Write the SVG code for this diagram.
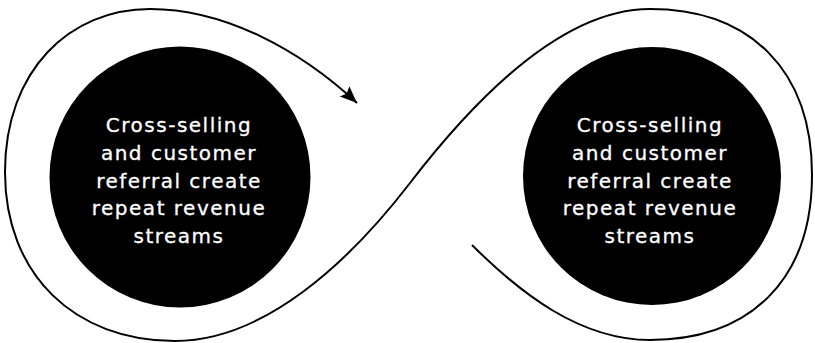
<svg xmlns="http://www.w3.org/2000/svg" width="815" height="343" viewBox="0 0 815 343">
<style>
.bg{fill:#ffffff}
.node circle{fill:#000000}
.node text{fill:#ffffff;stroke:#ffffff;stroke-width:0.3;font-family:"DejaVu Sans","Liberation Sans",sans-serif;font-size:20px;letter-spacing:1.5px;text-anchor:middle}
.conn{fill:none;stroke:#000000;stroke-width:2}
</style>
<defs>
<marker id="arrow" markerUnits="userSpaceOnUse" markerWidth="20" markerHeight="16" refX="17" refY="7" orient="auto">
<path d="M0,0 L17,7 L0,14 L3,7 z" fill="#000000"/>
</marker>
</defs>
<rect class="bg" x="0" y="0" width="815" height="343"/>
<g id="connectors">
<path class="conn" marker-end="url(#arrow)" d="M472,245 C520,293 580,340 650,340 C750,340 812,280 812,175 C812,70 750,9 650,9 C560,9 470,105 410,183 C350,261 265,341 175,341 C75,341 5,275 5,172 C5,70 70,9 150,9 C225,9 300,50 357,103"/>
</g>
<g id="node-left" class="node">
<circle cx="180" cy="177" r="130.5"/>
<text x="179" y="132">Cross-selling</text>
<text x="179" y="160">and customer</text>
<text x="179" y="188">referral create</text>
<text x="179" y="215">repeat revenue</text>
<text x="179" y="243">streams</text>
</g>
<g id="node-right" class="node">
<circle cx="652" cy="176" r="129"/>
<text x="650" y="132">Cross-selling</text>
<text x="650" y="160">and customer</text>
<text x="650" y="188">referral create</text>
<text x="650" y="215">repeat revenue</text>
<text x="650" y="243">streams</text>
</g>
</svg>
